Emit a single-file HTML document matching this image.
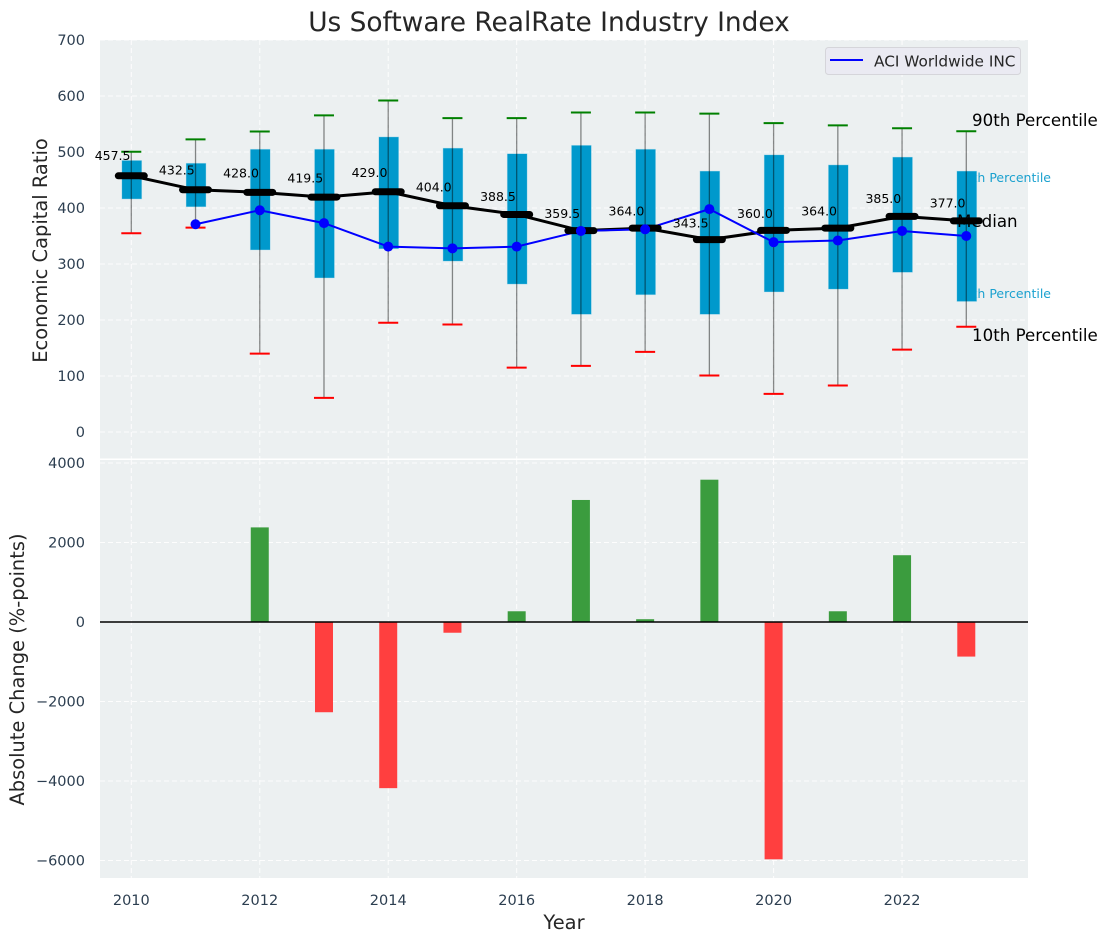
<!DOCTYPE html>
<html>
<head>
<meta charset="utf-8">
<title>Us Software RealRate Industry Index</title>
<style>
html,body{margin:0;padding:0;background:#fff;}
svg{display:block;font-family:"DejaVu Sans","Liberation Sans",sans-serif;}
</style>
</head>
<body>
<svg id="chart" width="1107" height="942" viewBox="0 0 1107 942" xmlns="http://www.w3.org/2000/svg">
<rect width="1107" height="942" fill="#ffffff"/>
<rect x="100" y="40" width="928" height="418.5" fill="#ecf0f1"/>
<rect x="100" y="460" width="928" height="418" fill="#ecf0f1"/>
<g id="grid"></g>
<g id="series"></g>
<text x="549" y="31" font-size="26.4" text-anchor="middle" fill="#262626">Us Software RealRate Industry Index</text>
<text transform="translate(47,250.5) rotate(-90)" font-size="19.45" text-anchor="middle" fill="#262626">Economic Capital Ratio</text>
<text transform="translate(24,669.5) rotate(-90)" font-size="19.45" text-anchor="middle" fill="#262626">Absolute Change (%-points)</text>
<text x="564" y="929" font-size="19.45" text-anchor="middle" fill="#262626">Year</text>
<g>
<rect x="825.5" y="47.5" width="195" height="27" rx="3" fill="#eaeaf2" stroke="#d5d5da" stroke-width="1"/>
<line x1="830" y1="60" x2="863" y2="60" stroke="#0000ff" stroke-width="2"/>
<text x="874" y="66.5" font-size="15.3" fill="#262626">ACI Worldwide INC</text>
</g>
</svg>
<script>
const years = [2010,2011,2012,2013,2014,2015,2016,2017,2018,2019,2020,2021,2022,2023];
const p90 = [500.5,522.5,536.5,565.5,592,560.5,560.5,570.5,570.5,568.5,551.5,547.5,542.5,537];
const p75 = [485,480,505,505,527,507,497,512,505,466,495,477,491,466];
const median = [457.5,432.5,428.0,419.5,429.0,404.0,388.5,359.5,364.0,343.5,360.0,364.0,385.0,377.0];
const p25 = [416,402,325,275,327,305,264,210,245,210,250,255,285,233];
const p10 = [355,365,140,61,195,192,115,118,143,101,68,83,147,188];
const company = [null,371,396,373,331,328,331,359,362,398,339,342,359,350];
const change = [null,null,2380,-2270,-4180,-270,270,3070,70,3580,-5970,270,1680,-870];
const xTicks = [2010,2012,2014,2016,2018,2020,2022];
const topTicks = [0,100,200,300,400,500,600,700];
const bottomTicks = [-6000,-4000,-2000,0,2000,4000];

const NS = 'http://www.w3.org/2000/svg';
const gridLayer = document.getElementById('grid');
const seriesLayer = document.getElementById('series');
const xs = v => 131.3 + (v - 2010) * 64.23;
const yTop = v => 432 - v * 0.56;
const yBottom = v => 622 - v * 0.03975;
const yLabel = v => yTop(v) - 16 + (457.5 - v) * 0.035;

function make(parent, tag, attrs, text) {
  const el = document.createElementNS(NS, tag);
  for (const k in attrs) el.setAttribute(k, attrs[k]);
  if (text !== undefined) el.textContent = text;
  parent.appendChild(el);
  return el;
}
const dash = {stroke:'#ffffff','stroke-width':1,'stroke-dasharray':'5 3',opacity:0.9};

xTicks.forEach(t => {
  const a = make(gridLayer,'line',Object.assign({x1:xs(t),x2:xs(t),y1:40,y2:458.5},dash));
  
  
  const b = make(gridLayer,'line',Object.assign({x1:xs(t),x2:xs(t),y1:460,y2:878},dash));
  
  
  const l = make(gridLayer,'text',{x:xs(t),y:905,'font-size':14.5,'text-anchor':'middle',fill:'#2c3e50'},String(t));
  
  
});
topTicks.forEach(t => {
  const g = make(gridLayer,'line',Object.assign({x1:100,x2:1028,y1:yTop(t),y2:yTop(t)},dash));
  
  
  const l = make(gridLayer,'text',{x:85,y:yTop(t)+5.2,'font-size':14.5,'text-anchor':'end',fill:'#2c3e50'},String(t));
  
  
});
bottomTicks.forEach(t => {
  const g = make(gridLayer,'line',Object.assign({x1:100,x2:1028,y1:yBottom(t),y2:yBottom(t)},dash));
  
  
  const label = t < 0 ? '\u2212' + Math.abs(t) : String(t);
  const l = make(gridLayer,'text',{x:85,y:yBottom(t)+5.2,'font-size':14.5,'text-anchor':'end',fill:'#2c3e50'},label);
  
  
});

/* inner percentile labels sit under the boxes */
const l75 = make(seriesLayer,'text',{x:1051,y:182,'font-size':12.5,'text-anchor':'end',fill:'#1ba1cf'},'75th Percentile');


const l25 = make(seriesLayer,'text',{x:1051,y:298,'font-size':12.5,'text-anchor':'end',fill:'#1ba1cf'},'25th Percentile');



years.forEach((yr,i) => {
  const x = xs(yr);
  const box = make(seriesLayer,'rect',{x:x-9.5,y:yTop(p75[i]),width:20,height:yTop(p25[i])-yTop(p75[i]),fill:'#0099cc',stroke:'#bfe3ef','stroke-width':0.6,'stroke-opacity':0.7});
  
  
  const wh = make(seriesLayer,'line',{x1:x,x2:x,y1:yTop(p90[i]),y2:yTop(p10[i]),stroke:'#000','stroke-opacity':0.45,'stroke-width':1.3});
  
  
  const c1 = make(seriesLayer,'line',{x1:x-10,x2:x+10,y1:yTop(p90[i]),y2:yTop(p90[i]),stroke:'#008000','stroke-width':2});
  
  
  const c2 = make(seriesLayer,'line',{x1:x-10,x2:x+10,y1:yTop(p10[i]),y2:yTop(p10[i]),stroke:'#ff0000','stroke-width':2});
  
  
});

const medianLine = make(seriesLayer,'polyline',{points:years.map((y,i)=>xs(y)+','+yTop(median[i])).join(' '),fill:'none',stroke:'#000','stroke-width':3});



const companyPoints = years.map((y,i)=>company[i]===null?null:xs(y)+','+yTop(company[i])).filter(Boolean).join(' ');
const companyLine = make(seriesLayer,'polyline',{points:companyPoints,fill:'none',stroke:'#0000ff','stroke-width':2});



years.forEach((yr,i) => {
  const x = xs(yr);
  const m = make(seriesLayer,'line',{x1:x-13,x2:x+13,y1:yTop(median[i]),y2:yTop(median[i]),stroke:'#000','stroke-width':7,'stroke-linecap':'round'});
  
  
  if (company[i] !== null) {
    const p = make(seriesLayer,'circle',{cx:x,cy:yTop(company[i]),r:5,fill:'#0000ff'});
    
    
  }
  const t = make(seriesLayer,'text',{x:x-0.8,y:yLabel(median[i]),'font-size':12.5,'text-anchor':'end',fill:'#000'},median[i].toFixed(1));
  
  
  if (change[i] !== null) {
    const v = change[i];
    const top = v >= 0 ? yBottom(v) : yBottom(0);
    const h = Math.abs(yBottom(v) - yBottom(0));
    const b = make(seriesLayer,'rect',{x:x-9,y:top,width:18,height:h,fill:v>=0?'#3b9c3e':'#ff3f3f'});
    
    
  }
});

const zero = make(seriesLayer,'line',{x1:100,x2:1028,y1:yBottom(0),y2:yBottom(0),stroke:'#000','stroke-width':1.4});



const l90 = make(seriesLayer,'text',{x:972,y:126,'font-size':16.67,fill:'#000'},'90th Percentile');


const lm = make(seriesLayer,'text',{x:957,y:227,'font-size':16.67,fill:'#000'},'Median');


const l10 = make(seriesLayer,'text',{x:972,y:341,'font-size':16.67,fill:'#000'},'10th Percentile');


</script>
</body>
</html>
